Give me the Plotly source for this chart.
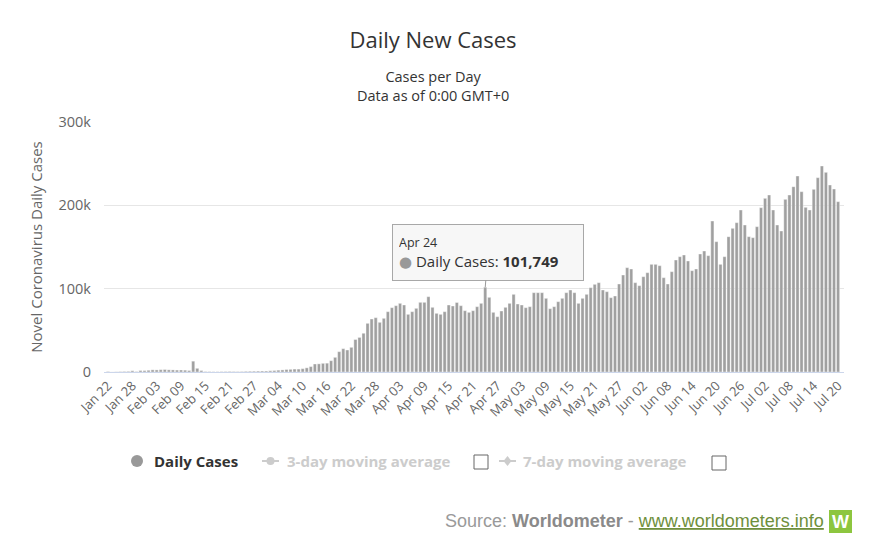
import plotly.graph_objects as go
import pandas as pd

# ---- data ----
start_date = "2020-01-22"
end_date = "2020-07-20"
dates = pd.date_range(start_date, end_date, freq="D")

daily_cases = [
    # Jan 22 - Jan 31
    600, 100, 300, 500, 700, 800, 1500, 600, 1800, 1700,
    # Feb 01 - Feb 29
    2100, 2600, 2500, 2800, 3000, 2600, 2500, 2300, 2400, 2200,
    1800, 13000, 4400, 1800, 600, 500, 400, 400, 500, 600,
    700, 600, 500, 600, 800, 900, 1000, 1100, 1200,
    # Mar 01 - Mar 31
    1200, 1500, 1800, 2200, 2500, 3000, 3200, 3500, 3500, 4000,
    5000, 6500, 9600, 9800, 10400, 10600, 13600, 17600, 24400, 28000,
    26400, 29600, 39000, 41500, 46500, 58400, 63600, 65200, 59600, 64400,
    72400,
    # Apr 01 - Apr 30
    77200, 79600, 82400, 80400, 69200, 72400, 76400, 83600, 83600, 90400,
    77600, 70400, 69200, 72400, 80400, 79200, 83400, 79600, 73600, 71600,
    73600, 78400, 82400, 101749, 89600, 71600, 66400, 73200, 77600, 82400,
    # May 01 - May 31
    93200, 81600, 80400, 77200, 78400, 95200, 95200, 95200, 88400, 76000,
    78400, 84400, 88400, 95200, 98400, 95200, 82400, 88400, 93200, 101200,
    105200, 107200, 98400, 96400, 89200, 91200, 105600, 116400, 125200, 123600,
    107200,
    # Jun 01 - Jun 30
    103600, 114400, 119200, 129200, 129200, 127600, 113200, 105600, 120400, 134400,
    138400, 140400, 133200, 121600, 123600, 141600, 145200, 139600, 181200, 156400,
    129200, 138400, 162400, 172400, 179200, 194400, 176400, 162400, 161200, 174400,
    # Jul 01 - Jul 20
    197200, 208400, 212400, 194400, 176400, 169200, 207200, 212400, 222400, 235200,
    216400, 197600, 194400, 219200, 233200, 247200, 239600, 224400, 219600, 204400,
]
assert len(daily_cases) == len(dates)

y_tick_values = [0, 100000, 200000, 300000]
y_tick_labels = ["0", "100k", "200k", "300k"]

tooltip_date = "2020-04-24"
tooltip_value = 101749

# ---- geometry (page pixels; the page body adds an 8px offset) ----
OFF = 8
FIG_W, FIG_H = 874, 544
PL, PR, PT, PB = 104, 844, 122, 372   # plot area in page pixels


def px(xp):
    return (xp - PL) / (PR - PL)


def py(yp):
    return (PB - yp) / (PB - PT)


fig = go.Figure()
fig.add_trace(go.Bar(
    x=dates, y=daily_cases, name="Daily Cases",
    marker=dict(color="#a0a0a0", line=dict(color="#ffffff", width=0.4)),
    showlegend=False,
))

FONT = "Open Sans, Noto Sans, DejaVu Sans, sans-serif"

fig.update_layout(
    width=FIG_W, height=FIG_H,
    margin=dict(l=PL - OFF, r=FIG_W - (PR - OFF), t=PT - OFF, b=FIG_H - (PB - OFF)),
    paper_bgcolor="white", plot_bgcolor="white",
    font=dict(family=FONT, color="#666666", size=12),
    bargap=0.22,
    title=dict(text="Daily New Cases", x=(433 - OFF) / FIG_W, xref="container", xanchor="center",
               y=1 - (40 - OFF) / FIG_H, yref="container", yanchor="middle",
               font=dict(size=22, color="#333333", family=FONT)),
    xaxis=dict(
        type="date",
        range=["2020-01-21 00:14", "2020-07-21 11:00"],
        tick0="2020-01-22", dtick=6 * 86400000, tickformat="%b %d",
        tickangle=-45, tickfont=dict(size=13, color="#666666"),
        showgrid=False, showline=True, linecolor="#ccd6eb", linewidth=1,
        ticks="", zeroline=False,
    ),
    yaxis=dict(
        range=[0, 300000], tickvals=y_tick_values, ticktext=y_tick_labels,
        tickfont=dict(size=14.5, color="#666666"),
        showgrid=True, gridcolor="#e6e6e6", gridwidth=1, zeroline=False,
        ticks="", ticklabelstandoff=12,
        title=dict(text="Novel Coronavirus Daily Cases",
                   font=dict(size=15, color="#666666"), standoff=12),
    ),
)

annotations = []
shapes = []

# subtitle (two lines in one text)
annotations.append(dict(text="Cases per Day<br>Data as of 0:00 GMT+0", x=px(433), y=py(86),
                        xref="paper", yref="paper",
                        showarrow=False, font=dict(size=14.5, color="#333333"),
                        xanchor="center", yanchor="middle", align="center"))

# tooltip
annotations.append(dict(
    x=tooltip_date, y=tooltip_value, xref="x", yref="y",
    text=("<span style='font-size:12.5px'>Apr 24</span><br>"
          "<span style='color:#999999'>●</span> Daily Cases: <b>%s</b>" % f"{tooltip_value:,}"),
    showarrow=True, arrowhead=0, arrowwidth=1, arrowcolor="#999999", standoff=0,
    ax=3, ay=-35, align="left", width=178, height=43,
    bgcolor="rgba(247,247,247,0.95)", bordercolor="#a8a8a8", borderwidth=1, borderpad=6,
    font=dict(size=15, color="#333333", family=FONT),
))

# legend
LY = 461
LFS = 15
shapes.append(dict(type="circle", xref="paper", yref="paper",
                   x0=px(131), x1=px(143), y0=py(LY + 6), y1=py(LY - 6),
                   fillcolor="#999999", line=dict(width=0)))
annotations.append(dict(text="<b>Daily Cases</b>", x=px(152), y=py(LY), xref="paper", yref="paper",
                        showarrow=False, xanchor="left", yanchor="middle",
                        font=dict(size=LFS, color="#333333")))
# 3-day symbol
shapes.append(dict(type="line", xref="paper", yref="paper", x0=px(262), x1=px(279), y0=py(LY), y1=py(LY),
                   line=dict(color="#cccccc", width=2)))
shapes.append(dict(type="circle", xref="paper", yref="paper",
                   x0=px(266.5), x1=px(274.5), y0=py(LY + 4), y1=py(LY - 4),
                   fillcolor="#cccccc", line=dict(width=0)))
annotations.append(dict(text="<b>3-day moving average</b>", x=px(285), y=py(LY), xref="paper", yref="paper",
                        showarrow=False, xanchor="left", yanchor="middle",
                        font=dict(size=LFS, color="#cccccc")))
shapes.append(dict(type="rect", xref="paper", yref="paper",
                   x0=px(474), x1=px(488), y0=py(469), y1=py(455),
                   line=dict(color="#666666", width=1), fillcolor="white"))
# 7-day symbol
shapes.append(dict(type="line", xref="paper", yref="paper", x0=px(499), x1=px(516), y0=py(LY), y1=py(LY),
                   line=dict(color="#cccccc", width=2)))
cx = 507.5
shapes.append(dict(type="path", xref="paper", yref="paper",
                   path="M %f,%f L %f,%f L %f,%f L %f,%f Z" % (
                       px(cx), py(LY - 5), px(cx + 4), py(LY), px(cx), py(LY + 5), px(cx - 4), py(LY)),
                   fillcolor="#cccccc", line=dict(width=0)))
annotations.append(dict(text="<b>7-day moving average</b>", x=px(521), y=py(LY), xref="paper", yref="paper",
                        showarrow=False, xanchor="left", yanchor="middle",
                        font=dict(size=LFS, color="#cccccc")))
shapes.append(dict(type="rect", xref="paper", yref="paper",
                   x0=px(712), x1=px(726), y0=py(470), y1=py(456),
                   line=dict(color="#666666", width=1), fillcolor="white"))

# source line
annotations.append(dict(
    text=("<span style='color:#9a9a9a'>Source: </span>"
          "<span style='color:#8a8a8a'><b>Worldometer</b></span>"
          "<span style='color:#9a9a9a'> - </span>"
          "<span style='color:#6e8f3c;text-decoration:underline'>www.worldometers.info</span>"),
    x=px(826), y=py(521), xref="paper", yref="paper", showarrow=False,
    xanchor="right", yanchor="middle",
    font=dict(size=18, family="Liberation Sans, Arial, sans-serif"),
))
shapes.append(dict(type="rect", xref="paper", yref="paper",
                   x0=px(829), x1=px(852), y0=py(533), y1=py(510),
                   fillcolor="#8dc63f", line=dict(width=0)))
annotations.append(dict(text="<b>W</b>", x=px(840.5), y=py(521.5), xref="paper", yref="paper",
                        showarrow=False, xanchor="center", yanchor="middle",
                        font=dict(size=18, color="white", family="Liberation Sans, Arial, sans-serif")))

fig.update_layout(annotations=annotations, shapes=shapes)

fig.write_html("out.html")
